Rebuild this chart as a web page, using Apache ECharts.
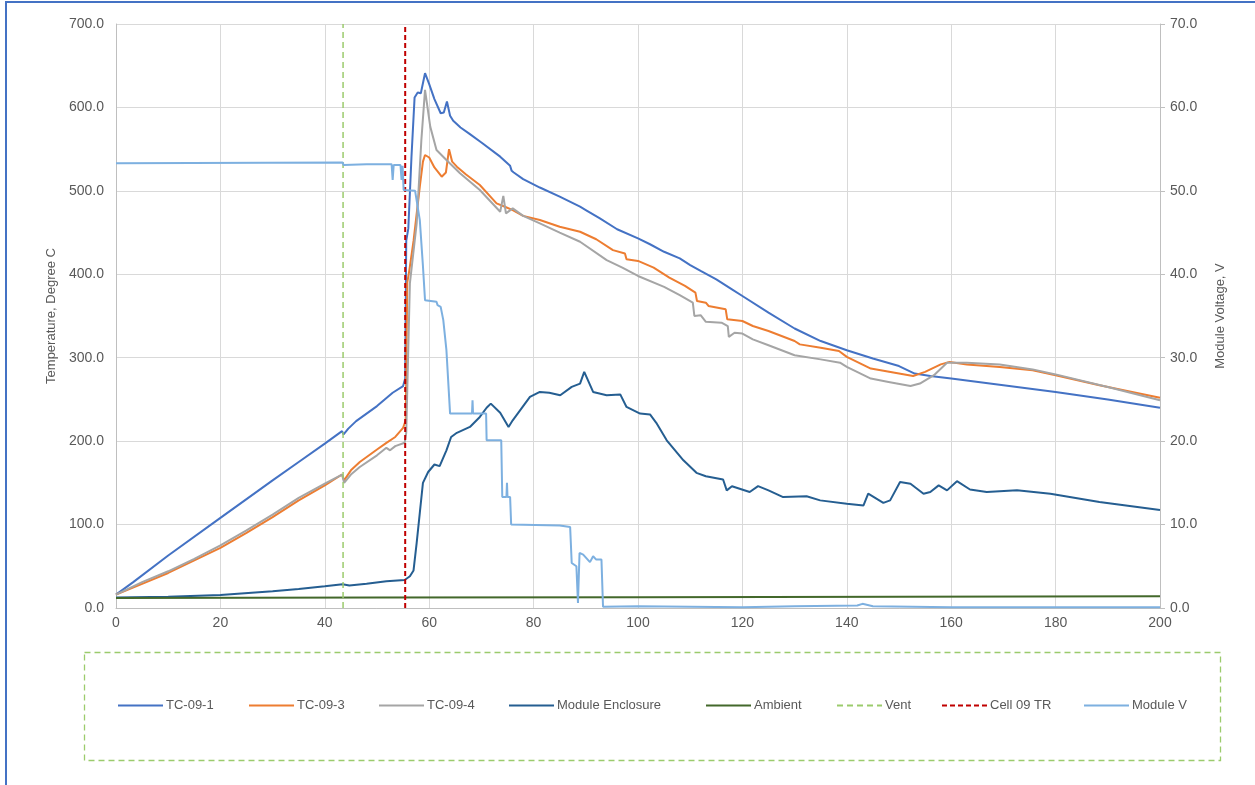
<!DOCTYPE html>
<html>
<head>
<meta charset="utf-8">
<title>Cell 09 thermal runaway – temperatures and module voltage</title>
<script src="https://cdn.jsdelivr.net/npm/echarts@6/dist/echarts.min.js"></script>
<style>
  html, body { margin: 0; padding: 0; background: #fff; }
  #chart { width: 1255px; height: 785px; }
</style>
</head>
<body>
<div id="chart"></div>
<script>
// Time axis (s) and tick settings
const timeTicks = { min: 0, max: 200, step: 20 };
const tempTicks = { min: 0, max: 700, step: 100 };
const voltTicks = { min: 0, max: 70, step: 10 };

// Event markers (time, s)
const ventTime = 43.5;
const cellTrTime = 55.4;

// Thermocouple TC-09-1 [time s, temperature °C]
const tc091 = [[0,16],[3.3,31],[10,63],[20,108],[30,153],[35,175],[40,197],[43.3,212],[43.6,208],[44.5,215],[46,224],[50,242],[53,258],[55,266],[55.4,275],[55.6,440],[56,455],[56.6,540],[57.2,612],[57.8,618],[58.4,617],[59.2,641],[60,628],[61,610],[62.2,593],[62.8,594],[63.4,607],[64,590],[64.6,584],[66,576],[67.8,568],[70,558],[73.6,541],[75.5,530],[75.8,524],[76.2,522],[78,514],[81.2,504],[85,493],[88.9,481],[90,477],[92.7,467],[96,454],[100,443],[102.3,436],[105,427],[108,419],[110,411],[112,404],[115,394],[118,382],[120,374],[125,354],[130,335],[135,320],[140,309],[145,299],[150,290],[153,281],[156,278],[160,275],[170,267],[180,259],[190,250],[200,240]];

// Thermocouple TC-09-3 [time s, temperature °C]
const tc093 = [[0,16],[5,29],[10,42],[15,57],[20,72],[25,90],[30,109],[35,129],[40,147],[43.3,160],[43.7,153],[45,165],[46.7,175],[50,190],[51.8,198],[53.5,205],[55,216],[55.5,225],[55.8,390],[56.2,405],[57,440],[58.2,505],[58.8,535],[59.2,543],[60,540],[61,528],[62.4,517],[63.2,522],[63.8,550],[64.4,535],[65.3,529],[67,520],[69.7,507],[72.9,485],[74.5,481],[76,477],[78,470],[81.2,465],[85,457],[88.9,451],[92,442],[95.2,429],[97.5,425],[97.8,418],[100,416],[103,408],[106,396],[109,386],[111,378],[111.3,368],[113,366],[113.5,362],[116.8,358],[117.1,346],[120,344],[122,338],[125,332],[130,320],[131,316],[135,312],[138.5,308],[140,301],[144.6,287],[150,281],[152.7,278],[155,283],[158,292],[159.7,295],[163,292],[169.3,289],[175.6,285],[180,279],[188.4,267],[200,252]];

// Thermocouple TC-09-4 [time s, temperature °C]
const tc094 = [[0,16],[5,31],[10,44],[15,59],[20,75],[25,93],[30,112],[35,132],[40,149],[43.3,160],[43.7,150],[45,160],[46.7,169],[50,183],[51.8,192],[52.5,189],[53.5,194],[55.3,198],[55.6,210],[56.3,389],[57.6,461],[58.5,561],[59.2,621],[60.2,577],[61.4,549],[63.3,537],[65.9,521],[69.7,501],[73.6,475],[74.2,494],[74.7,473],[76,479],[78,470],[81.2,461],[85,450],[88.9,439],[94,417],[97,408],[100,398],[105,385],[108,375],[110.5,366],[110.8,350],[112,351],[113,343],[116,342],[117.2,338],[117.4,325],[118.5,330],[120,329],[122,322],[125,315],[130,303],[135,298],[138.7,294],[140,289],[144.6,275],[148,271],[152.2,266],[154,269],[156.7,279],[159.2,294],[163,294],[169.3,292],[175.6,286],[180,280],[190,265],[200,249]];

// Module enclosure [time s, temperature °C]
const enclosure = [[0,12.5],[10,13.5],[20,15.6],[30,20],[35,22.8],[40,26],[43.4,28.5],[44.7,27],[48,29],[51.8,32],[55.3,33.6],[56.3,38],[57,45],[57.6,78],[58.2,114],[58.8,150],[59.8,163],[61,172],[62,170],[63.3,189],[64.2,205],[65.3,210],[67.8,217],[69.7,229],[71,240],[71.8,245],[73.6,234],[75.2,217],[76,225],[79.3,253],[81.2,259],[83,258],[85.1,255],[87.3,265],[88.9,269],[89.7,283],[91.4,259],[94,255],[96.6,256],[97.8,241],[100.4,233],[102.3,232],[103.5,222],[105.5,201],[108.7,177],[111.2,162],[113,158],[116.3,154],[117,141],[118,146],[121.4,139],[123,146],[125,141],[127.8,133],[132.3,134],[134.9,129],[140,125],[143.2,123],[144.1,137],[147,126],[148.3,129],[150.2,151],[152.2,149],[154.7,137],[156,139],[157.6,147],[159.2,141],[161.1,152],[163.6,142],[166.8,139],[172.6,141],[179,137],[188.4,127],[200,117.5]];

// Ambient [time s, temperature °C]
const ambient = [[0,12],[50,12.5],[100,13],[150,13.5],[200,14]];

// Module voltage [time s, V]
const moduleV = [[0,53.3],[43.4,53.4],[43.6,53.1],[48,53.2],[52.8,53.2],[53,51.3],[53.2,53.1],[54.5,53.1],[54.7,51.3],[54.9,53],[55.1,50.1],[57.3,50],[58.2,46.5],[58.8,41],[59.2,36.9],[61.4,36.7],[61.6,36.3],[62.2,36.1],[62.7,34.5],[63.3,30.9],[64,23.3],[68.2,23.3],[68.3,24.9],[68.4,23.3],[70.9,23.3],[71,20.1],[73.8,20.1],[74,13.3],[74.8,13.3],[74.9,15],[75,13.3],[75.5,13.3],[75.7,10],[85,9.9],[87,9.7],[87.3,5.4],[88.2,5],[88.5,0.6],[88.8,6.6],[89.5,6.4],[90.8,5.5],[91.4,6.2],[92,5.8],[93,5.8],[93.3,0.15],[100,0.2],[110,0.15],[120,0.1],[130,0.2],[142,0.3],[143,0.5],[145,0.2],[160,0.1],[200,0.1]];

// Legend entries and their left offsets in the legend row
const legendNames = ['TC-09-1','TC-09-3','TC-09-4','Module Enclosure','Ambient','Vent','Cell 09 TR','Module V'];
const legendLeft = [117, 248, 378, 508, 705, 836, 941, 1083];

const FONT = '"Liberation Sans", Arial, sans-serif';
const TEXT = '#595959';

function lineSeries(name, data, color, opts) {
  return Object.assign({
    name: name,
    type: 'line',
    data: data,
    symbol: 'none',
    showSymbol: false,
    smooth: false,
    lineStyle: { color: color, width: 2 },
    itemStyle: { color: color },
    emphasis: { disabled: true }
  }, opts || {});
}

const chart = echarts.init(document.getElementById('chart'), null, { renderer: 'canvas' });

chart.setOption({
  animation: false,
  backgroundColor: '#ffffff',
  textStyle: { fontFamily: FONT },
  grid: { left: 116, right: 95, top: 24, bottom: 177, containLabel: false },
  xAxis: {
    type: 'value',
    min: timeTicks.min, max: timeTicks.max, interval: timeTicks.step,
    axisLine: { show: true, lineStyle: { color: '#BFBFBF', width: 1 } },
    axisTick: { show: false },
    axisLabel: { color: TEXT, fontSize: 14, fontFamily: FONT, margin: 8 },
    splitLine: { show: true, lineStyle: { color: '#D9D9D9', width: 1 } }
  },
  yAxis: [
    {
      type: 'value',
      min: tempTicks.min, max: tempTicks.max, interval: tempTicks.step,
      name: 'Temperature, Degree C',
      nameLocation: 'middle',
      nameGap: 58,
      nameRotate: 90,
      nameTextStyle: { color: TEXT, fontSize: 13, fontFamily: FONT },
      axisLine: { show: true, lineStyle: { color: '#BFBFBF', width: 1 } },
      axisTick: { show: false },
      axisLabel: { color: TEXT, fontSize: 14, fontFamily: FONT, margin: 12, formatter: v => v.toFixed(1) },
      splitLine: { show: true, lineStyle: { color: '#D9D9D9', width: 1 } }
    },
    {
      type: 'value',
      position: 'right',
      min: voltTicks.min, max: voltTicks.max, interval: voltTicks.step,
      name: 'Module Voltage, V',
      nameLocation: 'middle',
      nameGap: 54,
      nameRotate: 90,
      nameTextStyle: { color: TEXT, fontSize: 13, fontFamily: FONT },
      axisLine: { show: true, lineStyle: { color: '#BFBFBF', width: 1 } },
      axisTick: { show: true, inside: false, length: 5, lineStyle: { color: '#BFBFBF' } },
      axisLabel: { color: TEXT, fontSize: 14, fontFamily: FONT, margin: 10, formatter: v => v.toFixed(1) },
      splitLine: { show: false }
    }
  ],
  legend: legendNames.map((n, i) => ({
    data: [n],
    left: legendLeft[i],
    top: 699,
    padding: 0,
    itemWidth: 45,
    itemHeight: 14,
    itemGap: 0,
    // line-only keys: hide the marker symbol drawn in the middle of the key
    itemStyle: { opacity: 0 },
    textStyle: { color: TEXT, fontSize: 13, fontFamily: FONT, padding: [0, 0, 0, -2] },
    selectedMode: false
  })),
  graphic: [
    // frame around the whole chart area
    { type: 'rect', silent: true, shape: { x: 6, y: 2, width: 1400, height: 900 },
      style: { fill: 'none', stroke: '#4472C4', lineWidth: 2 } },
    // dashed box around the legend row
    { type: 'rect', silent: true, shape: { x: 84.5, y: 652.5, width: 1136, height: 108 },
      style: { fill: 'none', stroke: '#9BCB6C', lineWidth: 1.3, lineDash: [6, 4] } }
  ],
  series: [
    lineSeries('TC-09-1', tc091, '#4472C4'),
    lineSeries('TC-09-3', tc093, '#ED7D31'),
    lineSeries('TC-09-4', tc094, '#A5A5A5'),
    lineSeries('Module Enclosure', enclosure, '#255E91'),
    lineSeries('Ambient', ambient, '#43682B'),
    lineSeries('Vent', [[ventTime, tempTicks.min], [ventTime, tempTicks.max]], '#9BCB6C',
      { lineStyle: { color: '#9BCB6C', width: 1.5, type: [6, 4] } }),
    lineSeries('Cell 09 TR', [[cellTrTime, tempTicks.min], [cellTrTime, tempTicks.max]], '#C00000',
      { lineStyle: { color: '#C00000', width: 2, type: [5, 3] } }),
    lineSeries('Module V', moduleV, '#7DB0E0', { yAxisIndex: 1 })
  ]
});
</script>
</body>
</html>
